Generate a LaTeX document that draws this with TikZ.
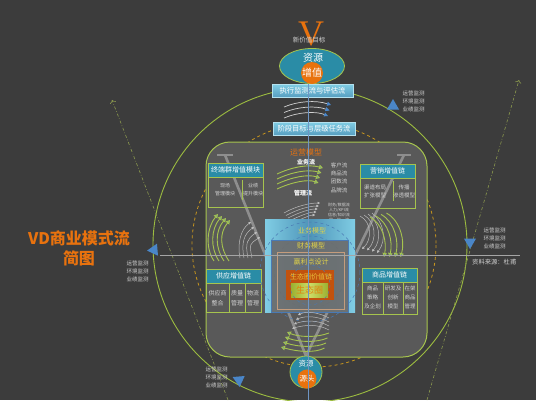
\documentclass[tikz,border=0pt]{standalone}
\usepackage{fontspec}
\setmainfont{Noto Sans CJK SC}
\newfontfamily\vletterfont{Liberation Serif}
\usepackage{tikz}
\usetikzlibrary{positioning, shapes.geometric, arrows.meta, calc}
\definecolor{bggray}{HTML}{3C3C3C}
\definecolor{panelgray}{HTML}{595959}
\definecolor{limegreen}{HTML}{A6C44E}
\definecolor{ringgreen}{HTML}{9CBC40}
\definecolor{tealblue}{HTML}{2A8CA6}
\definecolor{vorange}{HTML}{E8720E}
\definecolor{dashorange}{HTML}{C8961E}
\definecolor{tipblue}{HTML}{4A86C8}
\definecolor{textgray}{HTML}{D2D2D2}
\definecolor{skyblue}{HTML}{80CDE4}
\definecolor{steelblue}{HTML}{4E94B8}
\definecolor{boxgray}{HTML}{6C6C6C}
\definecolor{frameblue}{HTML}{4A7AB4}
\definecolor{tanline}{HTML}{C49C7C}
\definecolor{rustorange}{HTML}{C2520E}
\definecolor{olivegreen}{HTML}{9CB030}
\definecolor{paleolive}{HTML}{CCDC66}
\definecolor{labelyellow}{HTML}{E2D448}
\definecolor{ecoorange}{HTML}{E2800C}
\definecolor{guidegreen}{HTML}{8C9A4E}
\definecolor{beamgray}{HTML}{8E8E8E}
\tikzset{
	panel/.style={
			rectangle,
			draw=limegreen,
			fill=panelgray,
			line width=1pt,
			rounded corners=24pt,
			minimum width=221pt,
			minimum height=215pt,
			inner sep=0pt
		},
	hdrbox/.style={
			rectangle,
			draw=limegreen,
			fill=tealblue,
			text=white,
			font=\fontsize{7}{8}\selectfont,
			minimum width=55pt,
			minimum height=14pt,
			inner sep=0pt
		},
	bodybox/.style={
			rectangle,
			draw=limegreen,
			minimum width=55pt,
			minimum height=30pt,
			inner sep=0pt
		},
	divline/.style={
			draw=limegreen,
			line width=0.5pt
		},
	cellnote/.style={
			text=textgray,
			font=\fontsize{5.5}{8}\selectfont,
			align=center,
			inner sep=0pt
		},
	monnote/.style={
			text=textgray,
			font=\fontsize{5.5}{8}\selectfont,
			align=left,
			inner sep=0pt
		},
	flowbar/.style={
			rectangle,
			draw=skyblue!60!white,
			top color=skyblue,
			bottom color=steelblue!80!skyblue,
			text=white,
			font=\fontsize{7.3}{8}\selectfont,
			minimum width=81pt,
			minimum height=13pt,
			inner sep=0pt
		},
	bluetri/.style={
			regular polygon,
			regular polygon sides=3,
			fill=tipblue,
			minimum size=14pt,
			inner sep=0pt
		},
	toparc/.style={
			draw=textgray,
			line width=0.7pt,
			-{Triangle[fill=tipblue,color=tipblue,length=4pt,width=4pt]}
		},
	greenarc/.style={
			draw=limegreen,
			line width=0.9pt,
			-{Triangle[fill=tipblue,length=4pt,width=4.5pt]}
		},
	grayarc/.style={
			draw=textgray!80!panelgray,
			line width=0.5pt,
			-{Triangle[fill=white,length=2.5pt,width=2.5pt]}
		},
	vbeam/.style={
			draw=beamgray,
			line width=2.6pt
		},
	layerlabel/.style={
			text=labelyellow,
			font=\fontsize{7}{8}\selectfont,
			inner sep=0pt
		}
}

\begin{document}
\begin{tikzpicture}[x=1pt,y=-1pt]
\fill[bggray] (0,0) rectangle (536,400);
\useasboundingbox (0,0) rectangle (536,400);

% rings and guides
\draw[ringgreen, line width=0.9pt] (310,245) circle[radius=157];
\draw[dashorange, line width=0.8pt, dashed] (314,245) circle[radius=122];
\coordinate (ddL0) at (228,400);
\coordinate (ddL1) at (112,100);
\coordinate (ddR0) at (427,400);
\coordinate (ddR1) at (519,80);
\draw[guidegreen, line width=0.6pt, dash dot, -{To[length=3pt]}] (ddL0) -- (ddL1);
\draw[guidegreen, line width=0.6pt, dash dot, -{To[length=3pt]}] (ddR0) -- (ddR1);

% operating panel and gray V
\node[panel] (opPanel) at (316.5,249.5) {};
\coordinate (vTipL) at (225,155);
\coordinate (vTipR) at (404,155);
\coordinate (vBase) at (306,356);
\draw[vbeam] (vTipL) -- (vBase) -- (vTipR);
\draw[vbeam] ([xshift=-8pt]vTipL) -- ([xshift=8pt]vTipL);
\draw[vbeam] ([xshift=-7pt]vTipR) -- ([xshift=7pt]vTipR);

% top target
\node[text=vorange, font=\vletterfont\fontsize{36}{36}\selectfont, inner sep=0pt] (bigV) at (311,34) {V};
\node[text=textgray, font=\fontsize{6.5}{7}\selectfont, inner sep=0pt] (newValue) at (309,40) {新价值目标};
\node[ellipse, draw=limegreen, fill=tealblue, line width=0.8pt, minimum width=65pt, minimum height=35pt, inner sep=0pt] (srcTop) at (312,66) {};
\node[text=white, font=\fontsize{10}{10}\selectfont, inner sep=0pt] (srcTopTxt) at (313,57.5) {资源};
\node[circle, fill=vorange, text=white, font=\fontsize{10}{10}\selectfont, minimum size=22pt, inner sep=0pt] (gainC) at (312,73) {增值};
\node[flowbar] (execBar) at (312.5,90.5) {执行监测流与评估流};
\node[flowbar, minimum width=82pt] (stageBar) at (314,128.5) {阶段目标与层级任务流};
\foreach \k in {0,1,2}
	\draw[toparc] (284,{107+5.5*\k}) .. controls (298,{101+5.5*\k}) and (316,{100+5.5*\k}) .. ({331-1.5*\k},{105+5.5*\k});

% flows
\node[text=vorange, font=\fontsize{8}{8}\selectfont, inner sep=0pt] (opModel) at (306,152) {运营模型};
\node[text=white, font=\bfseries\fontsize{6}{6}\selectfont, inner sep=0pt] (bizFlow) at (306,162) {业务流};
\node[text=white, font=\bfseries\fontsize{6}{6}\selectfont, inner sep=0pt] (mgmtFlow) at (303,193) {管理流};
\node[cellnote, font=\fontsize{5.5}{8.3}\selectfont] (bizKinds) at (339,177.5) {客户流\\商品流\\团数流\\品牌流};
\node[cellnote, font=\fontsize{4}{5}\selectfont] (mgmtKinds) at (339,212) {财务/数据流\\人力/KPI流\\信息/知识流\\目　标　流};
\foreach \k in {0,...,3}
	\draw[greenarc] (277,{174+5*\k}) .. controls (292,{167+5*\k}) and (308,{164+5*\k}) .. ({323-1.5*\k},{168+5*\k});
\foreach \k in {0,...,4}
	\draw[grayarc] ({284+2*\k},{213+2.5*\k}) .. controls ({296+2*\k},{206+3*\k}) and (310,{203+3*\k}) .. ({320-1.2*\k},{203+3*\k});

% value chain modules
\node[hdrbox] (termHdr) at (235.5,170) {终端群增值模块};
\node[bodybox, below=0pt of termHdr] (termBody) {};
\draw[divline] ([xshift=34pt,yshift=-3pt]termBody.north west) -- ([xshift=34pt,yshift=8pt]termBody.south west);
\node[cellnote, font=\fontsize{5}{8}\selectfont] (termA) at (225,189.5) {现场\\管理模块};
\node[cellnote, font=\fontsize{5}{8}\selectfont] (termB) at (253,189.5) {业绩\\提升模块};

\node[hdrbox] (mktHdr) at (387.5,171) {营销增值链};
\node[bodybox, below=0pt of mktHdr] (mktBody) {};
\draw[divline] ([xshift=33pt,yshift=-3pt]mktBody.north west) -- ([xshift=33pt,yshift=8pt]mktBody.south west);
\node[cellnote] (mktA) at (375,191) {渠道布局\\扩张模型};
\node[cellnote] (mktB) at (404,191) {传播\\渗透模型};

\node[hdrbox] (supHdr) at (233.5,276) {供应增值链};
\node[bodybox, minimum height=29pt, below=0pt of supHdr] (supBody) {};
\draw[divline] ([xshift=23pt]supBody.north west) -- ([xshift=23pt]supBody.south west);
\draw[divline] ([xshift=39pt]supBody.north west) -- ([xshift=39pt]supBody.south west);
\node[cellnote, font=\fontsize{6}{10}\selectfont] (supA) at (217.5,298) {供应商\\整合};
\node[cellnote, font=\fontsize{6}{10}\selectfont] (supB) at (237,298) {质量\\管理};
\node[cellnote, font=\fontsize{6}{10}\selectfont] (supC) at (253,298) {物流\\管理};

\node[hdrbox] (goodsHdr) at (389.5,275) {商品增值链};
\node[bodybox, minimum height=32pt, below=0pt of goodsHdr] (goodsBody) {};
\draw[divline] ([xshift=21pt]goodsBody.north west) -- ([xshift=21pt]goodsBody.south west);
\draw[divline] ([xshift=41pt]goodsBody.north west) -- ([xshift=41pt]goodsBody.south west);
\node[cellnote, font=\fontsize{5.5}{9}\selectfont] (goodsA) at (372.5,297) {商品\\策略\\及企划};
\node[cellnote, font=\fontsize{5.5}{9}\selectfont] (goodsB) at (393,297) {研发及\\创新\\模型};
\node[cellnote, font=\fontsize{5.5}{9}\selectfont] (goodsC) at (410,297) {在架\\商品\\管理};

% side arcs
\foreach \k in {0,...,3}
	\draw[greenarc] ({214+5*\k},261) .. controls ({205+5*\k},248) and ({207+4*\k},{227+2*\k}) .. ({218+4*\k},{214+2*\k});
\foreach \k in {0,...,3}
	\draw[grayarc] ({240+4*\k},258) .. controls ({237+4*\k},243) and ({241+3*\k},{229+5*\k}) .. ({251+3*\k},{222+5*\k});
\foreach \k in {0,...,3}
	\draw[grayarc] ({360+4*\k},{216-\k}) .. controls ({372+4*\k},222) and ({372+5*\k},240) .. ({362+5*\k},{249+1.3*\k});
\foreach \k in {0,...,3}
	\draw[greenarc] ({370+5.5*\k},{217-1.3*\k}) .. controls ({383+6*\k},{224-\k}) and ({387+6*\k},242) .. ({384+5.5*\k},257);

% nested models
\node[rectangle, left color=skyblue, right color=skyblue, middle color=steelblue, minimum width=90pt, minimum height=93pt, inner sep=0pt] (bizBox) at (310,265.5) {};
\foreach \r in {50,36}
	\draw[frameblue, line width=0.5pt, dashed] (310,272) circle[radius=\r];
\node[rectangle, draw=frameblue, fill=boxgray, fill opacity=0.92, minimum width=77pt, minimum height=72pt, inner sep=0pt] (finBox) at (309.5,276) {};
\node[rectangle, draw=tanline, line width=0.8pt, minimum width=67pt, minimum height=57pt, inner sep=0pt] (profitBox) at (310.5,280.5) {};
\node[rectangle, fill=rustorange, minimum width=48pt, minimum height=30pt, inner sep=0pt] (chainBox) at (310,285) {};
\node[rectangle, left color=olivegreen, right color=olivegreen, middle color=paleolive, text=ecoorange, font=\fontsize{9}{9}\selectfont, minimum width=37pt, minimum height=14pt, inner sep=0pt] (ecoBox) at (309.5,290) {生态圈};
\draw[frameblue, line width=0.4pt, dashed] (310,285) circle[radius=20];
\node[layerlabel] (bizLbl) at (312,231) {业务模型};
\node[layerlabel] (finLbl) at (311,246) {财务模型};
\node[layerlabel] (profitLbl) at (311,262) {赢利点设计};
\node[layerlabel, text=labelyellow!80!orange] (chainLbl) at (311,277) {生态圈价值链};

% bottom arcs and source
\foreach \k in {0,...,3}
	\draw[grayarc] (329,{318+4*\k}) .. controls (318,{312+4*\k}) and (306,{311+4.5*\k}) .. ({298-2*\k},{315+4.5*\k});
\foreach \k in {0,...,3}
	\draw[greenarc] ({329-1.5*\k},{333+5*\k}) .. controls (316,{338+5*\k}) and (298,{337+5*\k}) .. ({287-2*\k},{332+5*\k});
\node[circle, draw=limegreen, fill=tealblue, line width=0.8pt, minimum size=32pt, inner sep=0pt] (srcBot) at (306,372) {};
\node[text=white, font=\fontsize{7.5}{8}\selectfont, inner sep=0pt] (srcBotTxt) at (306,364) {资源};
\node[circle, fill=vorange, text=white, font=\fontsize{7.5}{8}\selectfont, minimum size=19pt, inner sep=0pt] (rootC) at (307,379) {源头};

% axes
\coordinate (axisTop) at (308,84);
\coordinate (axisEnd) at (308,400);
\coordinate (hStart) at (160,255);
\coordinate (hEnd) at (520,255);
\draw[frameblue!80!white, line width=0.6pt] (axisTop) -- (axisEnd);
\draw[textgray!70!bggray, line width=0.6pt] (hStart) -- (hEnd);

% monitors
\node[bluetri] (triTR) at (393,106) {};
\node[bluetri, rotate=95] (triL) at (154,250) {};
\node[bluetri, rotate=180] (triR) at (470,242) {};
\node[bluetri, rotate=185] (triBL) at (239,380) {};
\node[monnote] (monTR) at (413.5,101) {运营监测\\环境监测\\业绩监测};
\node[monnote] (monR) at (494.5,238) {运营监测\\环境监测\\业绩监测};
\node[monnote] (monL) at (137.5,271.5) {运营监测\\环境监测\\业绩监测};
\node[monnote] (monBL) at (216.5,377) {运营监测\\环境监测\\业绩监测};
\node[text=textgray, font=\fontsize{6.3}{7}\selectfont, inner sep=0pt, anchor=west] (srcNote) at (472,262) {资料来源：杜甫};

% title
\node[text=vorange, font=\bfseries\fontsize{16}{20}\selectfont, align=center, inner sep=0pt] (title) at (79,248) {VD商业模式流\\简图};
\end{tikzpicture}
\end{document}
